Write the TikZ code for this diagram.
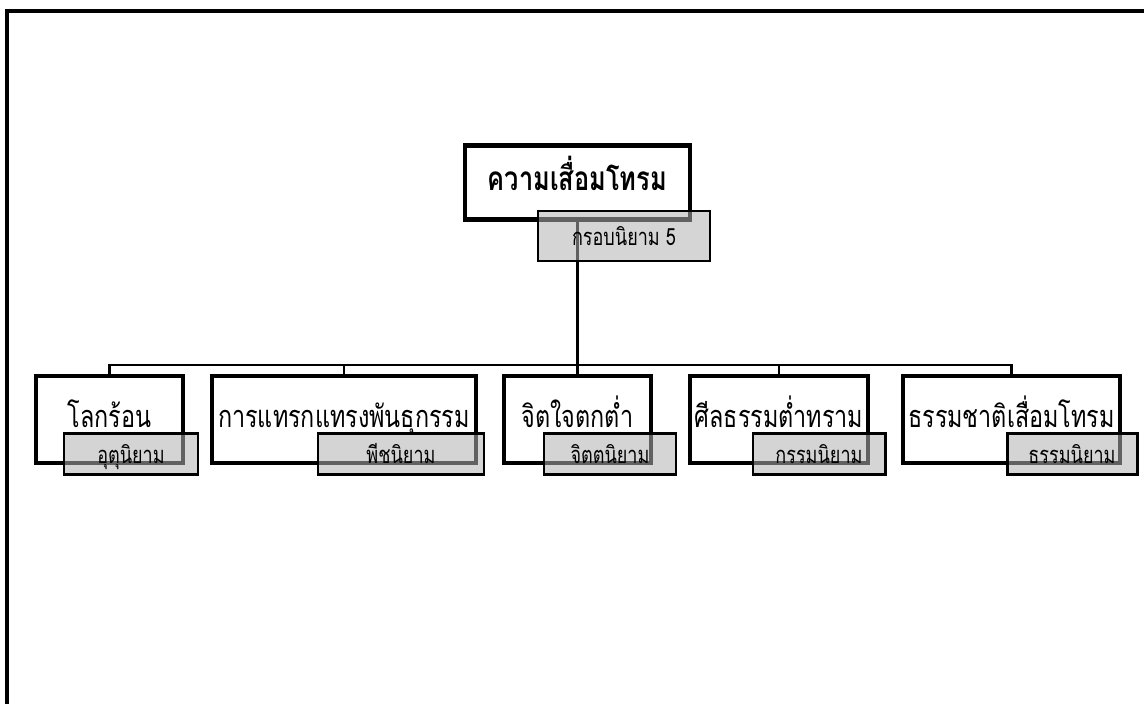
\documentclass[tikz,border=0pt]{standalone}
\usepackage{fontspec}
\newfontfamily\thaifont[Script=Thai, FakeStretch=0.76]{Loma}
\usepackage{tikz}
\usetikzlibrary{calc, positioning}
\tikzset{
  topic/.style = {draw, line width=2.3pt, fill=white, inner sep=0pt, text height=0.6cm, text depth=0.3cm, font=\thaifont\fontsize{17.5}{20}\selectfont},
  law/.style = {draw, line width=1.7pt, fill=gray!60, fill opacity=0.55, text opacity=1, inner sep=0pt, minimum height=0.82cm, text height=0.5cm, text depth=0.12cm, font=\thaifont\fontsize{13.5}{16}\selectfont},
  link/.style = {line width=1.2pt},
}

\begin{document}
\begin{tikzpicture}
			\useasboundingbox (0,0) rectangle (22.88,-14.08);
			\draw[line width=2.3pt] (22.88,-0.22) -- (0.14,-0.22) -- (0.14,-14.08);

			\pgfmathsetmacro{\rowY}{-8.39}
			\pgfmathsetmacro{\lawY}{-9.07}

			% root and its tag
			\node[topic, minimum width=4.5cm, minimum height=1.48cm, font=\thaifont\bfseries\fontsize{19}{22}\selectfont] (root) at (11.55,-3.65) {ความเสื่อมโทรม};
			\coordinate (hub) at (11.55,-7.3);
			\draw[link, line width=1.7pt] (root) -- (hub);

			% the five branches
			\node[topic, minimum width=2.94cm, minimum height=1.74cm] (warm) at (2.19,\rowY) {โลกร้อน};
			\node[topic, minimum width=5.28cm, minimum height=1.74cm] (gene) at (6.88,\rowY) {การแทรกแทรงพันธุกรรม};
			\node[topic, minimum width=2.94cm, minimum height=1.74cm] (mind) at (11.55,\rowY) {จิตใจตกต่ำ};
			\node[topic, minimum width=3.56cm, minimum height=1.74cm] (moral) at (15.58,\rowY) {ศีลธรรมต่ำทราม};
			\node[topic, minimum width=4.34cm, minimum height=1.74cm] (nature) at (20.23,\rowY) {ธรรมชาติเสื่อมโทรม};

			\foreach \c in {warm, gene, mind, moral, nature}
				\draw[link] (hub) -| (\c);

			% grey tags on top
			\node[law, minimum width=3.44cm, minimum height=1.0cm] (rootlaw) at (12.48,-4.72) {กรอบนิยาม 5};
			\node[law, minimum width=2.68cm] (warmlaw) at (2.62,\lawY) {อุตุนิยาม};
			\node[law, minimum width=3.32cm] (genelaw) at (8.02,\lawY) {พีชนิยาม};
			\node[law, minimum width=2.64cm] (mindlaw) at (12.2,\lawY) {จิตตนิยาม};
			\node[law, minimum width=2.64cm] (morallaw) at (16.38,\lawY) {กรรมนิยาม};
			\node[law, minimum width=2.6cm] (naturelaw) at (21.44,\lawY) {ธรรมนิยาม};
\end{tikzpicture}
\end{document}
